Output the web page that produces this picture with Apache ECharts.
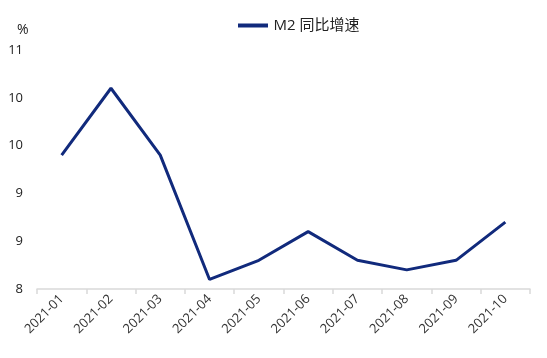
<!DOCTYPE html>
<html>
<head>
<meta charset="utf-8">
<script src="https://cdn.jsdelivr.net/npm/echarts@6/dist/echarts.min.js"></script>
<style>html,body{margin:0;padding:0;background:#fff}#c{width:547px;height:358px}</style>
</head>
<body>
<div id="c"></div>
<script>
const categories = ['2021-01','2021-02','2021-03','2021-04','2021-05','2021-06','2021-07','2021-08','2021-09','2021-10'];
const m2Values = [9.4, 10.1, 9.4, 8.1, 8.3, 8.6, 8.3, 8.2, 8.3, 8.7];
const seriesName = 'M2 同比增速';
const unitLabel = '%';

const chart = echarts.init(document.getElementById('c'), null, {renderer:'canvas'});
chart.setOption({
  animation: false,
  backgroundColor: '#fff',
  textStyle: {fontFamily: '"Open Sans", "Noto Sans CJK SC", sans-serif'},
  title: {
    text: unitLabel, left: 12, top: 18,
    textStyle: {fontSize: 14, fontWeight: 'normal', color: '#222', fontFamily: '"Open Sans", sans-serif'}
  },
  legend: {
    data: [seriesName], top: 13, left: 233,
    icon: 'path://M0,0 L30,0 L30,4 L0,4 Z',
    itemWidth: 31, itemHeight: 4, itemGap: 10,
    textStyle: {fontSize: 15, color: '#222', fontFamily: '"Open Sans", "Noto Sans CJK SC", sans-serif'}
  },
  grid: {left: 37, right: 17, top: 50, bottom: 69, containLabel: false},
  xAxis: {
    type: 'category', data: categories, boundaryGap: true,
    axisLine: {lineStyle: {color: '#d9d9d9', width: 1.5}},
    axisTick: {show: true, length: 5, lineStyle: {color: '#d9d9d9', width: 1.5}},
    axisLabel: {rotate: 45, fontSize: 13, color: '#333', margin: 8, interval: 0}
  },
  yAxis: {
    type: 'value', min: 8, max: 10.5, interval: 0.5,
    axisLine: {show: false}, axisTick: {show: false}, splitLine: {show: false},
    axisLabel: {fontSize: 13, color: '#222', margin: 14, formatter: v => String(Math.round(v))}
  },
  series: [{
    name: seriesName, type: 'line', data: m2Values,
    symbol: 'none', lineStyle: {color: '#112a7c', width: 3}, itemStyle: {color: '#112a7c'}
  }]
});
</script>
</body>
</html>
